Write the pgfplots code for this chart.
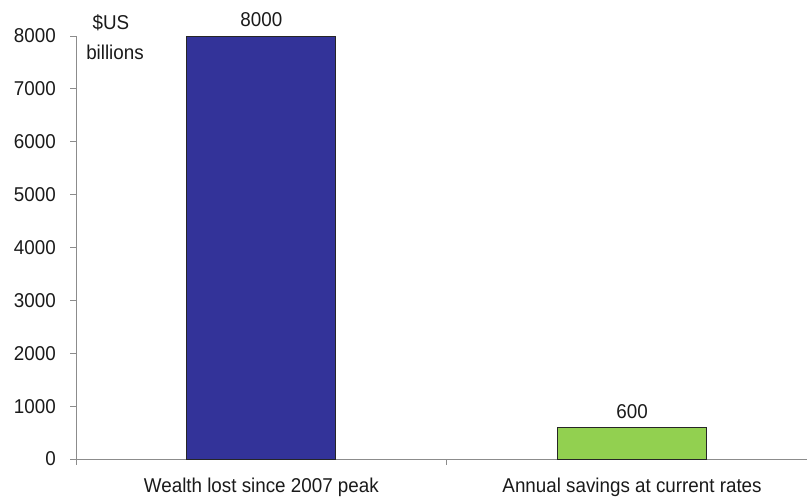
\documentclass[border=0pt]{standalone}
\usepackage{fontspec}
\setmainfont[FakeStretch=0.94]{Liberation Sans}
\usepackage{pgfplots}
\pgfplotsset{compat=1.18}
\definecolor{barblue}{HTML}{333399}
\definecolor{bargreen}{HTML}{92D050}
\definecolor{axgray}{HTML}{8C8C8C}
\definecolor{txt}{HTML}{1A1A1A}
\pgfplotstableread{
x y
0 8000
}\wealthtab
\pgfplotstableread{
x y
1 600
}\savingstab
\begin{document}
\fontsize{20bp}{24bp}\selectfont
\begin{tikzpicture}[x=1bp,y=1bp]
\path[use as bounding box] (0,0) rectangle (808,499);
\begin{axis}[
 at={(76bp,40bp)}, anchor=south west,
 scale only axis, width=731bp, height=423bp,
 xmin=-0.5, xmax=1.472, ymin=0, ymax=8000,
 axis x line*=bottom, axis y line*=left,
 axis line style={axgray, line width=0.9bp, -},
 /pgf/number format/assume math mode=true,
 /pgf/number format/1000 sep={},
 font=\fontsize{20bp}{24bp}\selectfont,
 ytick={0,1000,...,8000},
 y tick style={axgray, line width=0.9bp},
 ytick align=outside, major tick length=6bp,
 yticklabel style={anchor=east, inner sep=0pt, xshift=-14bp, text=txt},
 xtick={0,1},
 xticklabels={Wealth lost since 2007 peak, Annual savings at current rates},
 x tick style={draw=none},
 xticklabel style={anchor=north, inner sep=0pt, yshift=-12.5bp, text=txt},
 extra x ticks={-0.5,0.5}, extra x tick labels={},
 extra x tick style={xtick align=outside, x tick style={draw=axgray, line width=0.9bp}},
 ybar, bar width=0.402, bar shift=0pt,
 nodes near coords,
 nodes near coords style={anchor=south, inner sep=0pt, yshift=8.5bp, text=txt, /pgf/number format/assume math mode=true},
 clip=false,
]
\addplot[fill=barblue, draw=black!85, line width=0.8bp] table[x=x,y=y] {\wealthtab};
\addplot[fill=bargreen, draw=black!85, line width=0.8bp] table[x=x,y=y] {\savingstab};
\end{axis}
\node[anchor=base, inner sep=0pt, text=txt] at (111,469) {\$US};
\node[anchor=base, inner sep=0pt, text=txt] at (115,439) {billions};
\end{tikzpicture}
\end{document}
